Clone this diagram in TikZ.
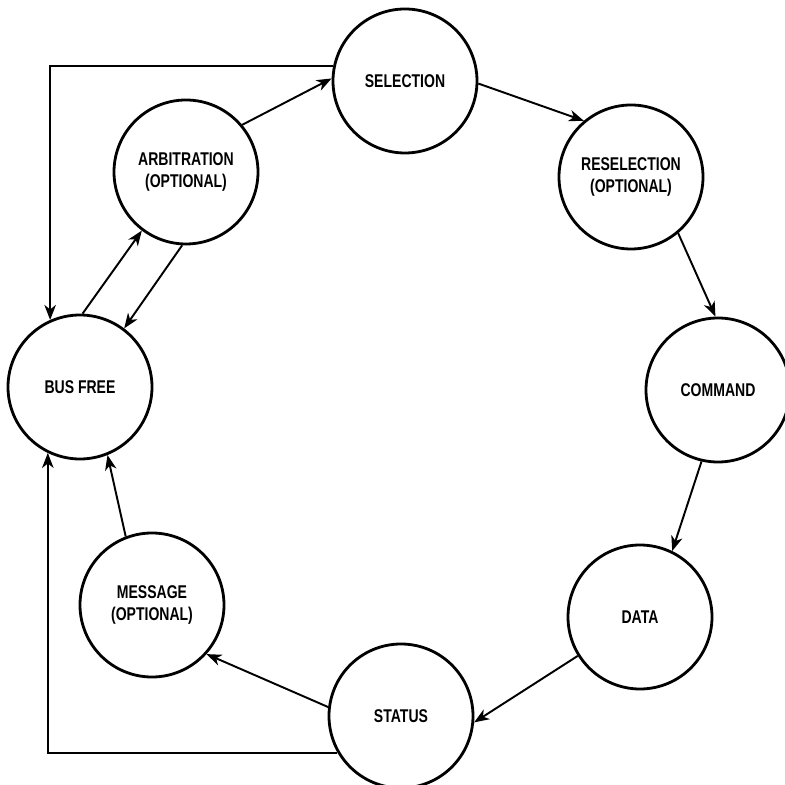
\documentclass[tikz,border=0pt]{standalone}
\usepackage{fontspec}
\newfontfamily\statefont{Liberation Sans}[FakeStretch=0.76]
\usepackage{tikz}
\usetikzlibrary{arrows.meta}

\begin{document}
\begin{tikzpicture}[
    every node/.style={font=\statefont\bfseries\fontsize{10.5}{13}\selectfont},
    state/.style={circle, draw=black, line width=1.6pt, minimum size=2.88cm, inner sep=0pt, align=center},
    arrow/.style={line width=1.1pt, -{Stealth[length=3mm, width=2.3mm, inset=0.9mm]}, color=black}
]
\useasboundingbox (0,0) rectangle (15.7,15.7);

% Nodes
\node[state] (sel) at (8.10,14.08) {SELECTION};
\node[state] (resel) at (12.62,12.16) {RESELECTION\\(OPTIONAL)};
\node[state] (cmd) at (14.36,7.90) {COMMAND};
\node[state] (data) at (12.80,3.36) {DATA};
\node[state] (status) at (8.02,1.38) {STATUS};
\node[state] (msg) at (3.04,3.60) {MESSAGE\\(OPTIONAL)};
\node[state] (busfree) at (1.60,7.96) {BUS FREE};
\node[state] (arb) at (3.72,12.26) {ARBITRATION\\(OPTIONAL)};

% Arrows (around the ring)
\draw[arrow] (arb.40) -- (sel.178);
\draw[arrow] (sel.358) -- (resel.130);
\draw[arrow] (resel.310) -- (cmd.92);
\draw[arrow] (cmd.257) -- (data.64);
\draw[arrow] (data.212) -- (status.355);
\draw[arrow] (status.173) -- (msg.318);
\draw[arrow] (msg.111) -- (busfree.292);
\draw[arrow] (busfree.88) -- (arb.233);
\draw[arrow] (arb.267) -- (busfree.53);

% Arrows (back to bus free)
\draw[arrow] (sel.168) -| (busfree.114);
\draw[arrow] (status.210) -| (busfree.244);

\end{tikzpicture}
\end{document}
